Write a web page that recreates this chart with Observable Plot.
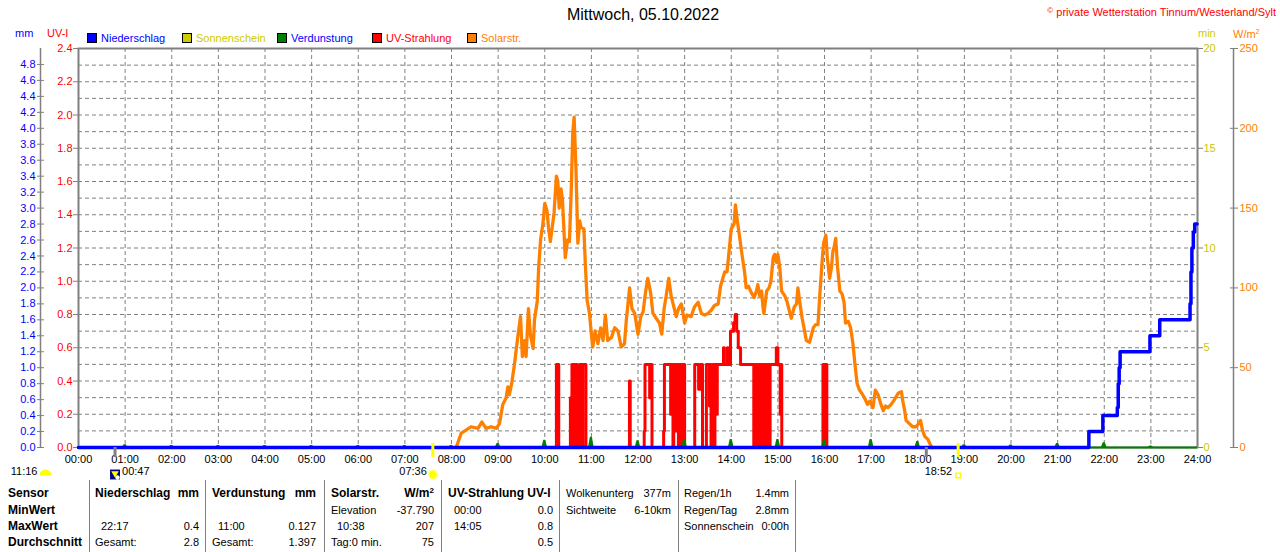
<!DOCTYPE html>
<html><head><meta charset="utf-8">
<script src="https://cdn.jsdelivr.net/npm/d3@7"></script>
<script src="https://cdn.jsdelivr.net/npm/@observablehq/plot@0.6"></script>
<style>
html,body{margin:0;padding:0;background:#fff;}
#root{position:relative;width:1280px;height:552px;overflow:hidden;font-family:"Liberation Sans",Arial,sans-serif;font-size:11px;color:#000;}
.abs{position:absolute;white-space:nowrap;line-height:1;}
.sq{position:absolute;width:8px;height:8px;border:1px solid #000;}
.sep{position:absolute;width:1px;background:#808080;top:480px;height:72px;}
#chart{position:absolute;left:0;top:40px;}
</style></head>
<body><div id="root"><div id="chart"></div></div>
<script>
// ---------- data ----------
const hours = d3.range(0, 25);
const uvTicks = d3.range(13).map(i => i * 0.2);           // UV-I 0 .. 2.4
const mmTicks = d3.range(25).map(i => i * 0.2);           // mm 0 .. 4.8
const minTicks = [0, 5, 10, 15, 20];                      // min
const wTicks = [0, 50, 100, 150, 200, 250];               // W/m²

// Solarstrahlung (hours, W/m²)
const solarT = [8.10,8.21,8.32,8.42,8.57,8.65,8.74,8.85,8.96,9.03,9.10,9.17,9.21,9.24,9.29,9.35,9.42,9.48,9.52,9.57,9.60,9.65,9.69,9.75,9.78,9.84,9.87,9.91,9.96,
10.00,10.05,10.08,10.12,10.17,10.20,10.25,10.28,10.31,10.35,10.38,10.44,10.49,10.53,10.57,10.60,10.63,10.67,10.71,10.75,10.78,10.84,10.87,10.91,10.96,
11.00,11.03,11.08,11.14,11.20,11.25,11.30,11.35,11.43,11.50,11.57,11.64,11.71,11.75,11.82,11.87,11.93,
12.00,12.06,12.11,12.16,12.21,12.27,12.32,12.39,12.46,12.51,12.56,12.61,12.66,12.71,12.77,12.82,12.87,12.93,
13.00,13.05,13.14,13.21,13.29,13.36,13.43,13.50,13.57,13.64,13.72,13.77,13.82,13.86,13.91,13.97,
14.00,14.06,14.09,14.13,14.17,14.23,14.29,14.32,14.37,14.43,14.49,14.54,14.57,14.61,14.65,14.68,14.70,14.76,14.81,14.85,14.90,14.93,14.97,
15.00,15.04,15.08,15.15,15.20,15.26,15.29,15.35,15.40,15.43,15.47,15.52,15.56,15.61,15.68,15.76,15.81,15.86,15.90,15.95,15.98,
16.03,16.06,16.11,16.15,16.18,16.21,16.24,16.28,16.33,16.38,16.42,16.45,16.51,16.56,16.61,16.65,16.70,16.75,16.80,16.86,16.92,16.97,
17.04,17.09,17.15,17.21,17.26,17.31,17.36,17.43,17.50,17.58,17.65,17.68,17.72,17.75,17.82,17.89,17.96,
18.02,18.06,18.10,18.15,18.22,18.28,18.31];
const solarW = [0,9,11,13,12,16,12,13,12,15,27,31,38,33,40,52,69,82,57,67,57,87,71,62,80,92,113,130,140,
153,148,138,129,140,147,170,167,150,162,155,119,130,129,163,197,207,174,128,142,138,137,115,92,84,
71,63,73,65,75,67,83,67,69,75,73,63,65,80,100,87,84,
71,82,85,97,106,97,84,81,78,71,87,96,106,95,88,82,87,90,
78,83,82,88,91,84,83,84,86,89,90,101,106,110,110,128,
137,140,152,142,134,121,109,100,101,97,94,98,102,95,98,88,84,98,100,104,119,121,116,
121,113,98,95,91,84,81,88,90,100,91,81,75,67,66,75,77,77,96,117,128,
133,119,106,113,123,126,131,113,98,96,91,78,79,75,65,53,40,36,34,31,27,29,
25,36,33,27,23,26,25,27,30,34,35,29,23,17,15,13,13,
15,17,11,7,5,1,0];

// UV-Strahlung (minute of day, UV-I)
const uvMin = [0,614,615,617,618,632,633,634,635,637,638,639,641,642,644,645,647,648,649,652,653,
708,709,710,727,728,729,734,735,736,737,738,
752,753,754,761,762,763,765,766,768,769,770,772,773,775,776,777,779,780,
792,793,797,798,800,802,803,807,808,811,812,813,814,815,816,818,819,821,822,
825,829,830,831,834,835,836,838,839,842,843,845,847,848,849,850,852,867,
868,869,870,871,872,873,874,875,876,877,878,879,880,881,882,883,884,885,886,887,888,889,890,897,898,899,900,902,903,904,905,
957,958,960,961,962,963];
const uvVal = [0,0,0.5,0.5,0,0,0.3,0,0.5,0.5,0,0.5,0.5,0,0,0.5,0.5,0,0.5,0.5,0,
0,0.4,0,0,0.1,0.5,0.5,0.3,0.5,0.5,0,
0,0.1,0.5,0.5,0.2,0.5,0,0.5,0.5,0.1,0.5,0,0.5,0.5,0,0.5,0.5,0,
0,0.5,0.5,0.35,0.5,0.5,0,0,0.5,0.5,0.25,0.5,0,0.3,0.5,0,0.5,0.2,0.5,
0.5,0.5,0.6,0.5,0.5,0.6,0.5,0.5,0.7,0.7,0.75,0.8,0.7,0.7,0.6,0.6,0.5,0.5,
0.5,0,0.5,0.1,0.5,0,0.5,0.2,0.5,0,0.5,0.1,0.5,0,0.5,0.3,0.5,0,0.5,0.2,0.5,0,0.5,0.5,0.6,0.6,0.5,0.5,0.2,0.5,0,
0,0.5,0.5,0,0.5,0];

// Niederschlag kumuliert (hours, mm)
const rainT  = [0,21.67,21.97,22.28,22.30,22.32,22.34,22.98,23.19,23.84,23.86,23.88,23.91,23.94,23.99];
const rainMM = [0,0.2,0.4,0.5,0.8,1.0,1.2,1.4,1.6,1.8,2.2,2.5,2.7,2.8,2.8];

// Verdunstung je Stunde (mm)
const evapH  = d3.range(1, 24);
const evapMM = [0.035,0.025,0.025,0.025,0.025,0.025,0.025,0.025,0.05,0.09,0.127,0.085,0.1,0.1,0.1,0.1,0.1,0.075,0.035,0.03,0.05,0.06,0.02];

// Sonnenauf-/untergang, Mond
const sunEvents  = [{t: 7 + 36/60, label: "07:36", kind: "rise"}, {t: 18 + 52/60, label: "18:52", kind: "set"}];
const moonEvents = [{t: 47/60, label: "00:47"}, {t: 18 + 11/60, label: ""}];
const dayLength = "11:16";

// Legend
const legendNames  = ["Niederschlag", "Sonnenschein", "Verdunstung", "UV-Strahlung", "Solarstr."];
const legendFill   = ["#0000ff", "#cccc00", "#008000", "#ff0000", "#ff8000"];
const legendText   = ["#0000ff", "#cccc00", "#0000ff", "#ff0000", "#ff8000"];

// Table
const tableRowNames = ["Sensor", "MinWert", "MaxWert", "Durchschnitt"];
const tableCols = [
  {head: ["Niederschlag", "mm"], cells: [["", ""], ["22:17", "0.4"], ["Gesamt:", "2.8"]]},
  {head: ["Verdunstung", "mm"], cells: [["", ""], ["11:00", "0.127"], ["Gesamt:", "1.397"]]},
  {head: ["Solarstr.", "W/m²"], cells: [["Elevation", "-37.790"], ["10:38", "207"], ["Tag:0 min.", "75"]]},
  {head: ["UV-Strahlung UV-I", ""], cells: [["00:00", "0.0"], ["14:05", "0.8"], ["", "0.5"]]}
];
const tableInfo = [
  [["Wolkenunterg", "377m"], ["Sichtweite", "6-10km"]],
  [["Regen/1h", "1.4mm"], ["Regen/Tag", "2.8mm"], ["Sonnenschein", "0:00h"]]
];

// ---------- helpers ----------
const root = document.getElementById("root");
function addText(txt, x, cy, o = {}) {
  const size = o.size || 11;
  const s = document.createElement("div");
  s.className = "abs";
  s.textContent = txt;
  s.style.fontSize = size + "px";
  s.style.color = o.color || "#000";
  if (o.bold) s.style.fontWeight = "bold";
  s.style.top = (cy - size * 0.49) + "px";
  if (o.align === "right") s.style.right = (1280 - x) + "px";
  else if (o.align === "center") { s.style.left = x + "px"; s.style.transform = "translateX(-50%)"; }
  else s.style.left = x + "px";
  root.appendChild(s);
  return s;
}

// ---------- header ----------
addText("Mittwoch, 05.10.2022", 643, 15, {size: 16, align: "center"});
const cp = addText("", 1276, 12, {size: 11, color: "#ff0000", align: "right"});
cp.innerHTML = '<span style="font-size:8px;vertical-align:3px">©</span> private Wetterstation Tinnum/Westerland/Sylt';
addText("mm", 15, 33, {color: "#0000ff"});
addText("UV-I", 47, 33, {color: "#ff0000"});
addText("min", 1198, 33, {color: "#cccc00"});
const wm = addText("", 1233, 33, {color: "#ff8000"});
wm.innerHTML = 'W/m<span style="font-size:7px;vertical-align:4px">2</span>';
const legX = [87, 182, 277, 372, 467];
legendNames.forEach((n, i) => {
  const sq = document.createElement("div");
  sq.className = "sq";
  sq.style.left = legX[i] + "px";
  sq.style.top = "33px";
  sq.style.background = legendFill[i];
  root.appendChild(sq);
  addText(n, legX[i] + 14, 38, {color: legendText[i]});
});

// ---------- chart ----------
const U_MM = 2.4 / 5, U_MIN = 2.4 / 20, U_W = 2.4 / 250;
const solar = solarT.map((t, i) => ({t, w: solarW[i]}));
const uv = uvMin.map((m, i) => ({t: m / 60, v: uvVal[i]}));
const rain = rainT.map((t, i) => ({t, mm: rainMM[i]}));
const evapShape = evapH.flatMap((h, i) => [
  {h, x: h - 0.06, y: 0}, {h, x: h - 0.022, y: evapMM[i] * U_MM},
  {h, x: h + 0.022, y: evapMM[i] * U_MM}, {h, x: h + 0.06, y: 0}
]);
const GRAY = "#808080";
const dome = {draw(ctx, size) { const r = Math.sqrt(size / Math.PI); ctx.moveTo(-r, r * 0.35); ctx.arc(0, r * 0.35, r, Math.PI, 2 * Math.PI); ctx.closePath(); }};
const sunrise = sunEvents.filter(d => d.kind === "rise");
const sunset = sunEvents.filter(d => d.kind === "set");
const moonLabelled = moonEvents.filter(d => d.label);
const ROW = 27;

const chart = Plot.plot({
  width: 1280, height: 445,
  marginTop: 8, marginBottom: 38, marginLeft: 78, marginRight: 83,
  x: {domain: [0, 24]},
  y: {domain: [0, 2.4]},
  style: {fontFamily: '"Liberation Sans", Arial, sans-serif', fontSize: "11px", background: "transparent", overflow: "visible", color: "#000"},
  marks: [
    Plot.gridY(d3.range(1, 24).map(i => i / 10), {stroke: GRAY, strokeOpacity: 1, strokeDasharray: "4,3"}),
    Plot.gridX(d3.range(1, 24), {stroke: GRAY, strokeOpacity: 1, strokeDasharray: "4,3"}),
    Plot.frame({stroke: GRAY, strokeWidth: 2}),
    Plot.ruleX([0], {dx: -38, stroke: GRAY, strokeWidth: 1.5}),
    Plot.ruleX([24], {dx: 36, stroke: GRAY, strokeWidth: 1.5}),
    Plot.axisY(uvTicks, {anchor: "left", label: null, tickSize: 5, tickPadding: 1, stroke: GRAY, fill: "#ff0000", tickFormat: d => d.toFixed(1)}),
    Plot.axisY(mmTicks.map(m => m * U_MM), {anchor: "left", label: null, dx: -34, tickSize: 7, tickPadding: 2, stroke: GRAY, fill: "#0000ff", tickFormat: d => (d / U_MM).toFixed(1)}),
    Plot.axisY(minTicks.map(m => m * U_MIN), {anchor: "right", label: null, tickSize: 5, tickPadding: 1, stroke: GRAY, fill: "#c8c800", tickFormat: d => String(Math.round(d / U_MIN))}),
    Plot.axisY(wTicks.map(w => w * U_W), {anchor: "right", label: null, dx: 32, tickSize: 8, tickPadding: 2, stroke: GRAY, fill: "#ff8000", tickFormat: d => String(Math.round(d / U_W))}),
    Plot.axisX(hours, {anchor: "bottom", label: null, tickSize: 0, tickPadding: 8, fill: "#000", tickFormat: h => String(h).padStart(2, "0") + ":00"}),
    // Solarstrahlung
    Plot.line(solar, {x: "t", y: d => d.w * U_W, stroke: "#ff8000", strokeWidth: 3.3, strokeLinejoin: "round"}),
    // UV
    Plot.line(uv, {x: "t", y: "v", stroke: "#ff0000", strokeWidth: 3, curve: "step-after"}),
    // Verdunstung
    Plot.ruleY([0], {stroke: "#008000", strokeWidth: 2}),
    Plot.areaY(evapShape, {x: "x", y: "y", z: "h", fill: "#008000"}),
    // Niederschlag
    Plot.line(rain, {x: "t", y: d => d.mm * U_MM, stroke: "#0000ff", strokeWidth: 3.5, curve: "step-after"}),
    // markers
    Plot.ruleX(moonEvents, {x: "t", y1: 0, y2: -0.06, stroke: GRAY, strokeWidth: 3}),
    Plot.ruleX(sunEvents, {x: "t", y1: 0.025, y2: -0.06, stroke: "#ffff00", strokeWidth: 3}),
    Plot.text(sunEvents, {x: "t", text: "label", frameAnchor: "bottom", dy: ROW, dx: -6, textAnchor: "end", fill: "#000"}),
    Plot.dot(sunrise, {x: "t", frameAnchor: "bottom", dy: ROW, r: 4.5, fill: "#ffff00", stroke: "#ffff99", strokeWidth: 2, strokeDasharray: "1.5,1"}),
    Plot.dot(sunset, {x: "t", frameAnchor: "bottom", dy: ROW + 1, symbol: "square", r: 2.6, fill: "#ffffff", stroke: "#ffff00", strokeWidth: 1.5}),
    Plot.dot(moonLabelled, {x: "t", frameAnchor: "bottom", dy: ROW, symbol: "square", r: 5.6, fill: "#000080"}),
    Plot.dot(moonLabelled, {x: "t", frameAnchor: "bottom", dy: ROW + 3, dx: 2.5, r: 2.2, fill: "#ffffff"}),
    Plot.dot(moonLabelled, {x: "t", frameAnchor: "bottom", dy: ROW - 1, symbol: "triangle", rotate: 180, r: 2.8, fill: "#ffff00"}),
    Plot.text(moonLabelled, {x: "t", text: "label", frameAnchor: "bottom", dy: ROW, dx: 7, textAnchor: "start", fill: "#000"}),
    Plot.text([dayLength], {text: d => d, frameAnchor: "bottom-left", dx: -41, dy: ROW, textAnchor: "end", fill: "#000"}),
    Plot.dot([dayLength], {frameAnchor: "bottom-left", dx: -33, dy: ROW - 1, symbol: dome, r: 6, fill: "#ffff00"})
  ]
});
document.getElementById("chart").appendChild(chart);

// ---------- table ----------
const rowY = [493, 510, 526, 542];
const sepX = [89, 205, 324, 441, 559, 678, 795];
sepX.forEach(x => { const d = document.createElement("div"); d.className = "sep"; d.style.left = x + "px"; root.appendChild(d); });
tableRowNames.forEach((n, i) => addText(n, 8, rowY[i], {size: 12, bold: true}));
const colLeft = [95, 212, 331, 448], colRight = [199, 316, 434, 553], colIndent = [6, 6, 6, 6];
tableCols.forEach((c, j) => {
  addText(c.head[0], colLeft[j], rowY[0], {size: 12, bold: true});
  if (c.head[1]) {
    const h = addText("", colRight[j], rowY[0], {size: 12, bold: true, align: "right"});
    h.innerHTML = c.head[1].replace("²", '<span style="font-size:8px;vertical-align:4px">2</span>');
  }
  c.cells.forEach((cell, r) => {
    const isTime = /^\d\d:\d\d$/.test(cell[0]);
    if (cell[0]) addText(cell[0], colLeft[j] + (isTime ? colIndent[j] : 0), rowY[r + 1]);
    if (cell[1]) addText(cell[1], colRight[j], rowY[r + 1], {align: "right"});
  });
});
const infoLeft = [566, 684], infoRight = [671, 789];
tableInfo.forEach((col, j) => col.forEach((cell, r) => {
  addText(cell[0], infoLeft[j], rowY[r]);
  addText(cell[1], infoRight[j], rowY[r], {align: "right"});
}));
</script></body></html>
